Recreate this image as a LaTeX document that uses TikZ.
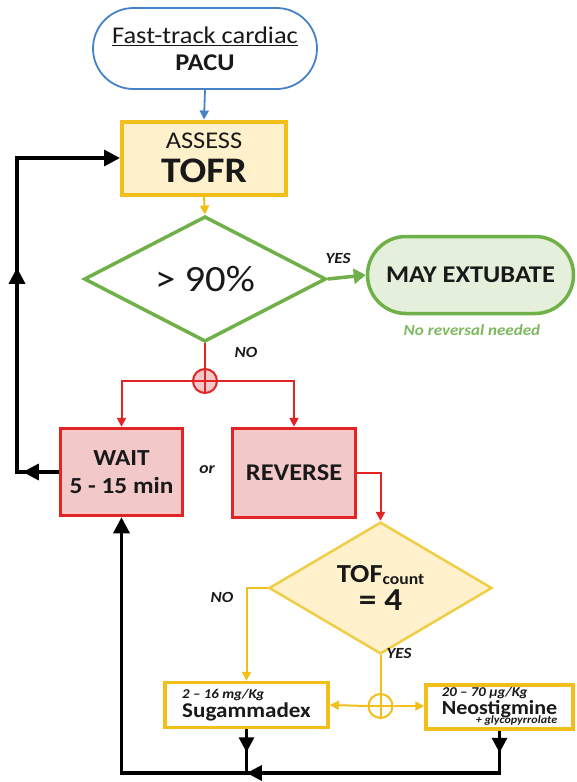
\documentclass[tikz,border=0pt]{standalone}
\usepackage{fontspec}
\setmainfont{Carlito}[FakeStretch=1.1]
\usetikzlibrary{shapes.geometric,shapes.misc,arrows.meta,decorations.markings}
\definecolor{cblue}{RGB}{70,130,200}
\definecolor{cgold}{RGB}{242,190,25}
\definecolor{cgoldlt}{RGB}{240,205,70}
\definecolor{cgoldfill}{RGB}{255,241,204}
\definecolor{cgreen}{RGB}{112,176,72}
\definecolor{cgreenfill}{RGB}{228,240,220}
\definecolor{cgreentext}{RGB}{125,185,95}
\definecolor{cred}{RGB}{226,36,36}
\definecolor{credfill}{RGB}{243,200,200}
\definecolor{ctext}{RGB}{25,25,25}
\newcommand{\fsz}[1]{\fontsize{#1}{#1}\selectfont}
\tikzset{
  base/.style={text=ctext, inner sep=0pt, align=center},
  termblue/.style={base, rounded rectangle, draw=cblue, line width=1.8pt, fill=white, minimum width=224pt, minimum height=81pt},
  assessbox/.style={base, rectangle, draw=cgold, fill=cgoldfill, line width=4pt, minimum width=164pt, minimum height=73pt},
  dgreen/.style={base, diamond, draw=cgreen, fill=white, line width=3.5pt, minimum width=242pt, minimum height=118pt},
  termgreen/.style={base, rounded rectangle, draw=cgreen, fill=cgreenfill, line width=3.5pt, minimum width=206pt, minimum height=77pt},
  redbox/.style={base, rectangle, draw=cred, fill=credfill, line width=3.5pt},
  dgold/.style={base, diamond, draw=cgoldlt, fill=cgoldfill, line width=2.5pt, minimum width=223pt, minimum height=94pt},
  drugbox/.style={base, rectangle, draw=cgold, fill=white, line width=3.5pt},
  plusc/.style={circle, minimum size=24pt, inner sep=0pt, line width=2pt,
     path picture={\draw[line width=2pt] (path picture bounding box.north) -- (path picture bounding box.south)
        (path picture bounding box.west) -- (path picture bounding box.east);}},
  lbl/.style={text=ctext, inner sep=0pt, font=\fsz{15.5}\bfseries\itshape},
  blueln/.style={draw=cblue, line width=1.8pt, -{Triangle[length=9pt,width=9pt]}},
  goldln/.style={draw=cgold, line width=2pt},
  goldarr/.style={goldln, -{Triangle[length=9pt,width=9pt]}},
  redln/.style={draw=cred, line width=2pt},
  redarr/.style={redln, -{Triangle[length=9pt,width=9pt]}},
  greenarr/.style={draw=cgreen, line width=3.5pt, -{Triangle[length=12pt,width=15pt]}},
  blk/.style={draw=black, line width=3.2pt},
  blkend/.style={blk, -{Triangle[length=16pt,width=16pt]}},
}
\begin{document}
\begin{tikzpicture}[x=1pt,y=-1pt]
\useasboundingbox (0,0) rectangle (577,782);
\fill[white] (0,0) rectangle (577,782);

% nodes
\node[termblue] (pacu) at (205,48.5) {\fsz{24}\underline{Fast-track cardiac}\\[8pt]\fsz{24}\bfseries PACU};
\node[assessbox] (assess) at (204,158) {\fsz{24}ASSESS\\[9pt]\fsz{36}\bfseries TOFR};
\node[dgreen] (d1) at (205,279) {\fsz{37}> 90\%};
\node[termgreen] (ext) at (470.5,275) {\fsz{24}\bfseries MAY EXTUBATE};
\node[plusc, draw=cred, fill=credfill, text=cred] (c1) at (205,381) {};
\node[redbox, minimum width=122pt, minimum height=87pt] (wait) at (121.5,472) {\fsz{23}\bfseries WAIT\\[11pt]\fsz{23}\bfseries 5 - 15 min};
\node[redbox, minimum width=123pt, minimum height=89pt] (rev) at (294,473) {\fsz{24}\bfseries REVERSE};
\node[dgold] (d2) at (380.5,588) {\fsz{26}\bfseries TOF\raisebox{-1.5pt}{\fsz{16}count}\\[4pt]\fsz{32}\bfseries = 4};
\node[drugbox, minimum width=163pt, minimum height=45pt] (sug) at (246.5,705)
  {\begin{tabular}{@{}l@{}}\fsz{13.5}\bfseries\itshape 2 – 16 mg/Kg\\[1pt]\fsz{21}\bfseries Sugammadex\end{tabular}};
\node[drugbox, minimum width=147pt, minimum height=44pt] (neo) at (499.5,707)
  {\begin{tabular}{@{}l@{}}\fsz{13.5}\bfseries\itshape 20 – 70 µg/Kg\\[1pt]\fsz{20}\bfseries Neostigmine\\[-3.5pt]\hfill\fsz{11}\bfseries\itshape + glycopyrrolate\end{tabular}};
\node[plusc, draw=cgold, fill=white] (c2) at (380.5,706) {};

% labels
\node[lbl] (yes1) at (338,258) {YES};
\node[lbl] (no1) at (246,352) {NO};
\node[lbl, font=\fsz{16}\bfseries\itshape] (or) at (207,470) {or};
\node[lbl] (no2) at (222,597) {NO};
\node[lbl] (yes2) at (399,653) {YES};
\node[lbl, text=cgreentext, font=\fsz{15.5}\bfseries\itshape] (norev) at (472,330) {No reversal needed};

% coordinates
\coordinate (lx1) at (17,472);
\coordinate (lx2) at (17,158);
\coordinate (ybot) at (0,773);

% connectors
\draw[blueln] (pacu.south) -- (assess.north);
\draw[goldarr] (assess.south) -- (d1.north);
\draw[greenarr] (d1.east) -- (ext.west);
\draw[redln] (d1.south) -- (c1.north);
\draw[redarr] (c1.west) -| (wait.north);
\draw[redarr] (c1.east) -| (rev.north);
\draw[redarr] (rev.east) -| (d2.north);
\draw[goldarr] (d2.west) -| (sug.north);
\draw[goldln] (d2.south) -- (c2.north);
\draw[goldarr] (c2.west) -- (sug.east);
\draw[goldarr] (c2.east) -- (neo.west |- c2);

\draw[blkend, postaction={decorate, decoration={markings,
   mark=at position 36pt with {\arrow{Triangle[length=16pt,width=16pt]}},
   mark=at position 246pt with {\arrow{Triangle[length=16pt,width=16pt]}}}}]
   (wait.west) -- (lx1) -- (lx2) -- (assess.west);
\draw[blk, postaction={decorate, decoration={markings,
   mark=at position 23pt with {\arrow{Triangle[length=15pt,width=15pt]}}}}]
   (sug.south) -- (sug.south |- ybot);
\draw[blkend, postaction={decorate, decoration={markings,
   mark=at position 22pt with {\arrow{Triangle[length=15pt,width=15pt]}},
   mark=at position 295pt with {\arrow{Triangle[length=15pt,width=15pt]}}}}]
   (neo.south) -- (neo.south |- ybot) -- (wait.south |- ybot) -- (wait.south);
\end{tikzpicture}
\end{document}
